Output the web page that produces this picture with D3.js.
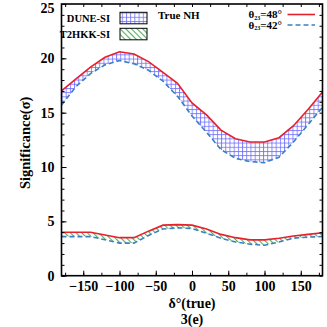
<!DOCTYPE html>
<html>
<head>
<meta charset="utf-8">
<script src="https://cdn.jsdelivr.net/npm/d3@7"></script>
<style>
  body { margin: 0; background: #fff; }
  text { font-family: "Liberation Serif", "Times New Roman", serif; font-weight: bold; }
</style>
</head>
<body>
<div id="chart"></div>
<script>
// delta_CP (true) grid, degrees
var delta_values = [-180, -160, -140, -120, -100, -80, -60, -40, -20, 0, 20, 40, 60, 80, 100, 120, 140, 160, 180];
// DUNE-SI significance
var dune_48 = [17.0, 18.1, 19.2, 20.1, 20.6, 20.4, 19.7, 18.7, 17.7, 15.9, 14.8, 13.4, 12.6, 12.3, 12.3, 12.7, 13.8, 15.3, 16.9];
var dune_42 = [15.7, 17.4, 18.6, 19.4, 19.8, 19.5, 18.9, 17.9, 16.5, 14.7, 13.2, 11.6, 10.8, 10.5, 10.4, 10.9, 12.3, 13.9, 15.5];
// T2HKK-SI significance
var t2hkk_48 = [4.0, 4.0, 4.0, 3.75, 3.5, 3.5, 4.1, 4.65, 4.7, 4.65, 4.3, 3.8, 3.5, 3.3, 3.3, 3.45, 3.65, 3.8, 3.95];
var t2hkk_42 = [3.6, 3.6, 3.6, 3.3, 3.0, 3.0, 3.7, 4.3, 4.4, 4.35, 3.9, 3.45, 3.1, 2.9, 2.8, 3.1, 3.45, 3.55, 3.6];

var x_ticks = [-150, -100, -50, 0, 50, 100, 150];
var y_ticks = [0, 5, 10, 15, 20, 25];

var width  = 327;
var height = 327;
var margin = {top: 4, right: 4.5, bottom: 51.3, left: 61.5};
var inner_w = width - margin.left - margin.right;
var inner_h = height - margin.top - margin.bottom;

var red_color  = "#e8202a";
var blue_color = "#3b80c4";

var svg = d3.select("#chart").append("svg")
  .attr("width", width)
  .attr("height", height);

var defs = svg.append("defs");

// blue grid hatch for DUNE
var grid = defs.append("pattern")
  .attr("id", "hatch_grid")
  .attr("patternUnits", "userSpaceOnUse")
  .attr("width", 4.2)
  .attr("height", 4.2);
grid.append("path")
  .attr("d", "M0,0.5H4.2M0.5,0V4.2")
  .attr("stroke", "#6b6bff")
  .attr("stroke-width", 0.8)
  .attr("fill", "none");

// green diagonal hatch for T2HKK
var diag = defs.append("pattern")
  .attr("id", "hatch_diag")
  .attr("patternUnits", "userSpaceOnUse")
  .attr("width", 4)
  .attr("height", 4)
  .attr("patternTransform", "rotate(-45)");
diag.append("path")
  .attr("d", "M0.6,0V4")
  .attr("stroke", "#2f9a3a")
  .attr("stroke-width", 0.9)
  .attr("fill", "none");

var g = svg.append("g")
  .attr("transform", "translate(" + margin.left + "," + margin.top + ")");

var x = d3.scaleLinear().domain([-180, 180]).range([0, inner_w]);
var y = d3.scaleLinear().domain([0, 25]).range([inner_h, 0]);

function band(lo, hi) {
  return d3.area()
    .x(function (d, i) { return x(delta_values[i]); })
    .y0(function (d, i) { return y(lo[i]); })
    .y1(function (d, i) { return y(hi[i]); })(delta_values);
}
function curve(vals) {
  return d3.line()
    .x(function (d, i) { return x(delta_values[i]); })
    .y(function (d) { return y(d); })(vals);
}

g.append("path").attr("d", band(dune_42, dune_48)).attr("fill", "url(#hatch_grid)");
g.append("path").attr("d", band(t2hkk_42, t2hkk_48)).attr("fill", "url(#hatch_diag)");

[[dune_48, false], [dune_42, true], [t2hkk_48, false], [t2hkk_42, true]].forEach(function (s) {
  g.append("path")
    .attr("d", curve(s[0]))
    .attr("fill", "none")
    .attr("stroke", s[1] ? blue_color : red_color)
    .attr("stroke-width", 1.6)
    .attr("stroke-dasharray", s[1] ? "5,3" : null);
});

// axes, ticks inward on all four sides
var minor_x = d3.range(-175, 180, 25);
var minor_y = d3.range(0, 26, 1);

g.append("g").attr("transform", "translate(0," + inner_h + ")")
  .call(d3.axisBottom(x).tickValues(minor_x).tickSize(-3).tickFormat(""));
g.append("g")
  .call(d3.axisTop(x).tickValues(minor_x).tickSize(-3).tickFormat(""));
g.append("g")
  .call(d3.axisLeft(y).tickValues(minor_y).tickSize(-3).tickFormat(""));
g.append("g").attr("transform", "translate(" + inner_w + ",0)")
  .call(d3.axisRight(y).tickValues(minor_y).tickSize(-3).tickFormat(""));
g.append("g").attr("transform", "translate(0," + inner_h + ")")
  .call(d3.axisBottom(x).tickValues(x_ticks).tickSize(-5).tickPadding(5).tickFormat(function (d) { return String(d).replace("-", "\u2212"); }))
  .attr("font-size", 14);
var axis_y = g.append("g")
  .call(d3.axisLeft(y).tickValues(y_ticks).tickSize(-5).tickPadding(7))
  .attr("font-size", 14);
// keep the top label inside the picture
axis_y.selectAll(".tick text").filter(function (d) { return d === 25; }).attr("dy", "0.62em");
g.selectAll(".domain").remove();
g.selectAll(".tick line").attr("stroke", "#000").attr("stroke-width", 1);
g.selectAll(".tick text").attr("fill", "#000").attr("font-family", "Liberation Serif, serif").attr("font-weight", "bold");

g.append("rect")
  .attr("width", inner_w)
  .attr("height", inner_h)
  .attr("fill", "none")
  .attr("stroke", "#000")
  .attr("stroke-width", 1.6);

// axis titles
svg.append("text")
  .attr("transform", "translate(30," + (margin.top + inner_h / 2 + 3) + ") rotate(-90)")
  .attr("text-anchor", "middle")
  .attr("font-size", 14.5)
  .text("Significance(\u03c3)");
svg.append("text")
  .attr("x", 192)
  .attr("y", 308)
  .attr("text-anchor", "middle")
  .attr("font-size", 14)
  .text("\u03b4\u00b0(true)");
svg.append("text")
  .attr("x", 192)
  .attr("y", 324)
  .attr("text-anchor", "middle")
  .attr("font-size", 14)
  .text("3(e)");

// left legend: hatched boxes
var legend_l = [["DUNE-SI", "url(#hatch_grid)", 12.3], ["T2HKK-SI", "url(#hatch_diag)", 28.3]];
legend_l.forEach(function (d) {
  svg.append("text")
    .attr("x", 110)
    .attr("y", d[2] + 9.5)
    .attr("text-anchor", "end")
    .attr("font-size", 10.5)
    .text(d[0]);
  svg.append("rect")
    .attr("x", 120)
    .attr("y", d[2])
    .attr("width", 27)
    .attr("height", 11.5)
    .attr("fill", d[1])
    .attr("stroke", "#000")
    .attr("stroke-width", 1);
});

svg.append("text")
  .attr("x", 158)
  .attr("y", 19)
  .attr("font-size", 11)
  .text("True NH");

// right legend: line styles
var legend_r = [["48", red_color, false, 14.5], ["42", blue_color, true, 25]];
legend_r.forEach(function (d) {
  var t = svg.append("text")
    .attr("x", 282)
    .attr("y", d[3] + 3.5)
    .attr("text-anchor", "end")
    .attr("font-size", 11);
  t.append("tspan").text("\u03b8");
  t.append("tspan").attr("font-size", 6).attr("dy", 1.5).text("23");
  t.append("tspan").attr("dy", -1.5).text("=" + d[0] + "\u00b0");
  svg.append("line")
    .attr("x1", 287.5).attr("x2", 315)
    .attr("y1", d[3]).attr("y2", d[3])
    .attr("stroke", d[1])
    .attr("stroke-width", 1.6)
    .attr("stroke-dasharray", d[2] ? "5,3" : null);
});
</script>
</body>
</html>
